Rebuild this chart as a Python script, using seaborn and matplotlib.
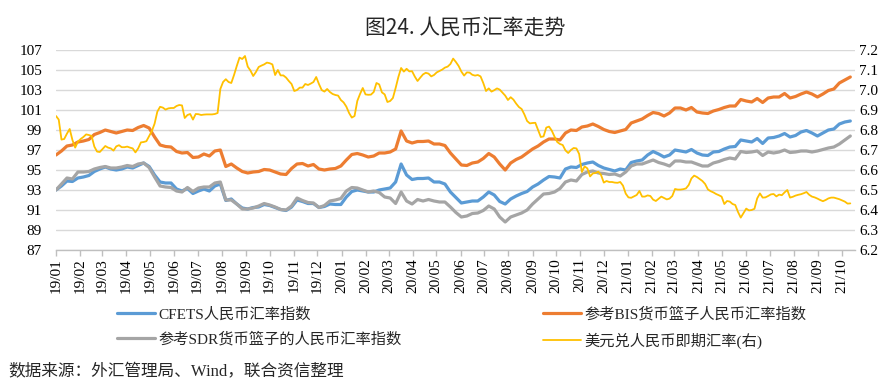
import numpy as np
import pandas as pd
import matplotlib
matplotlib.use("Agg")
import matplotlib.pyplot as plt
import seaborn as sns

sns.set_theme(style="white")
plt.rcParams["font.family"] = ["Liberation Serif", "Noto Sans CJK SC"]
plt.rcParams["axes.unicode_minus"] = False

title = "图24. 人民币汇率走势"
source = "数据来源：外汇管理局、Wind，联合资信整理"
names = ["CFETS人民币汇率指数", "参考BIS货币篮子人民币汇率指数",
         "参考SDR货币篮子的人民币汇率指数", "美元兑人民币即期汇率(右)"]

# weekly index observations (first week of 2019 .. mid Oct 2021)
index_start = "2019-01-01"
cfets = [
    93.0, 93.4, 93.9, 93.85, 94.2, 94.3, 94.45, 94.85, 95.1, 95.3, 95.1, 95.0, 95.1, 95.3, 95.2, 95.45, 95.7, 95.35,
    94.5, 93.8, 93.7, 93.7, 93.1, 92.9, 93.15, 92.65, 92.9, 93.1, 92.9, 93.4, 93.6, 91.95, 92.1, 91.6, 91.2, 91.1, 91.25,
    91.3, 91.55, 91.45, 91.25, 91.05, 90.95, 91.3, 92.0, 91.85, 91.65, 91.65, 91.25, 91.35, 91.6, 91.55, 91.55, 92.3, 92.85,
    93.0, 92.9, 92.8, 92.8, 93.0, 93.1, 93.2, 93.8, 95.6, 94.5, 94.05, 94.15, 94.15, 94.2, 93.8, 93.8, 93.6, 92.8,
    92.25, 91.7, 91.8, 91.9, 91.9, 92.3, 92.8, 92.5, 91.85, 91.6, 92.1, 92.4, 92.65, 92.85, 93.3, 93.6, 94.0, 94.35,
    94.3, 94.2, 95.1, 95.3, 95.25, 95.55, 95.7, 95.8, 95.45, 95.2, 95.05, 94.9, 95.1, 95.0, 95.75, 95.9, 96.0, 96.5,
    96.85, 96.6, 96.3, 96.5, 97.0, 96.9, 96.8, 97.05, 96.7, 96.5, 96.45, 96.8, 96.85, 97.1, 97.3, 97.35, 98.0, 97.9,
    97.8, 98.15, 97.65, 98.2, 98.25, 98.4, 98.65, 98.3, 98.45, 98.8, 98.95, 98.7, 98.4, 98.7, 99.0, 99.1, 99.6, 99.8, 99.9,
]
bis = [
    96.5, 96.9, 97.4, 97.5, 97.8, 97.9, 98.05, 98.55, 98.75, 99.0, 98.85, 98.7, 98.85, 99.0, 98.95, 99.25, 99.45, 99.2,
    98.3, 97.5, 97.35, 97.3, 96.85, 96.7, 96.75, 96.25, 96.3, 96.6, 96.4, 96.9, 97.0, 95.35, 95.6, 95.2, 94.85, 94.7, 94.8,
    94.85, 95.05, 95.0, 94.8, 94.6, 94.55, 95.15, 95.6, 95.65, 95.4, 95.55, 95.1, 95.0, 95.1, 95.15, 95.4, 96.0, 96.55,
    96.65, 96.5, 96.3, 96.4, 96.7, 96.7, 96.8, 97.1, 98.9, 97.9, 97.7, 97.85, 97.85, 97.9, 97.6, 97.6, 97.45, 96.7,
    96.1, 95.5, 95.45, 95.7, 95.8, 96.15, 96.65, 96.3, 95.6, 95.0, 95.7, 96.05, 96.3, 96.7, 97.1, 97.4, 97.8, 98.1,
    98.1, 98.0, 98.7, 99.0, 98.95, 99.3, 99.4, 99.6, 99.35, 99.05, 98.85, 98.75, 98.9, 99.05, 99.7, 99.9, 100.1, 100.45,
    100.75, 100.65, 100.4, 100.7, 101.2, 101.2, 101.0, 101.25, 100.8, 100.7, 100.65, 100.9, 101.05, 101.25, 101.4, 101.4,
    102.05, 101.9, 101.8, 102.15, 101.75, 102.2, 102.3, 102.3, 102.65, 102.2, 102.35, 102.6, 102.8, 102.6, 102.3, 102.6,
    102.95, 103.1, 103.7, 104.0, 104.3,
]
sdr = [
    93.0, 93.6, 94.2, 94.1, 94.8, 94.8, 94.85, 95.1, 95.25, 95.35, 95.2, 95.2, 95.3, 95.45, 95.35, 95.6, 95.7, 95.25,
    94.3, 93.4, 93.3, 93.25, 92.9, 92.8, 93.25, 92.85, 93.2, 93.3, 93.3, 93.7, 93.8, 92.0, 92.0, 91.6, 91.1, 91.1, 91.2,
    91.4, 91.65, 91.5, 91.3, 91.05, 91.0, 91.4, 92.2, 91.95, 91.75, 91.7, 91.25, 91.45, 91.9, 92.0, 92.15, 92.9, 93.25,
    93.2, 93.0, 92.8, 92.9, 92.75, 92.3, 92.2, 91.65, 92.8, 91.9, 91.6, 92.05, 91.9, 92.05, 91.9, 91.8, 91.8, 91.3,
    90.75, 90.3, 90.4, 90.65, 90.7, 90.95, 91.4, 91.1, 90.3, 89.8, 90.3, 90.5, 90.7, 91.0, 91.6, 92.1, 92.6, 92.65,
    92.8, 93.15, 93.8, 94.0, 93.9, 94.55, 94.8, 94.9, 94.7, 94.65, 94.55, 94.6, 94.4, 94.8, 95.4, 95.6, 95.6, 95.8,
    96.0, 95.75, 95.6, 95.4, 95.9, 95.9, 95.8, 95.8, 95.6, 95.4, 95.4, 95.7, 95.85, 96.05, 96.2, 96.1, 96.85, 96.75,
    96.8, 96.9, 96.45, 96.8, 96.7, 96.8, 97.0, 96.75, 96.8, 96.9, 96.9, 96.8, 96.9, 97.05, 97.2, 97.3, 97.6, 98.0, 98.4,
]
# USD/CNY spot, roughly twice-weekly readings
usdcny = [
    6.870, 6.852, 6.752, 6.755, 6.782, 6.805, 6.750, 6.712, 6.742, 6.755,
    6.765, 6.778, 6.775, 6.770, 6.717, 6.692, 6.690, 6.705, 6.720, 6.712,
    6.708, 6.697, 6.718, 6.724, 6.714, 6.714, 6.717, 6.712, 6.708, 6.688,
    6.708, 6.738, 6.740, 6.744, 6.770, 6.795, 6.832, 6.892, 6.916, 6.912,
    6.902, 6.908, 6.910, 6.910, 6.920, 6.925, 6.923, 6.860, 6.875, 6.880,
    6.852, 6.880, 6.879, 6.875, 6.877, 6.878, 6.878, 6.878, 6.880, 6.885,
    7.005, 7.040, 7.054, 7.040, 7.035, 7.075, 7.120, 7.162, 7.155, 7.170,
    7.117, 7.097, 7.070,
    7.090, 7.115, 7.122, 7.128, 7.137, 7.134, 7.128, 7.075, 7.100, 7.073,
    7.073, 7.062, 7.045, 7.030, 6.995, 7.000, 7.012, 7.012, 7.030, 7.025,
    7.032, 7.040, 7.065, 7.030, 7.000, 6.992, 7.005, 6.990, 6.980, 6.975,
    6.972, 6.950, 6.938, 6.917, 6.885, 6.862, 6.870, 6.945, 6.980, 7.010,
    6.978, 6.976, 6.977, 6.990, 7.035, 7.028, 6.988, 6.978, 6.940, 6.945,
    6.960, 7.010, 7.065, 7.110, 7.092, 7.106, 7.093, 7.094, 7.067, 7.045,
    7.062, 7.078, 7.086, 7.082, 7.068, 7.075, 7.088, 7.095, 7.102, 7.112,
    7.117, 7.130,
    7.157, 7.140, 7.120, 7.092, 7.072, 7.088, 7.087, 7.076, 7.072, 7.075,
    7.068, 7.035, 6.995, 7.008, 6.992, 6.999, 7.008, 7.002, 6.987, 6.972,
    6.950, 6.964, 6.952, 6.932, 6.915, 6.905, 6.878, 6.845, 6.833, 6.835,
    6.836, 6.800, 6.765, 6.768, 6.812, 6.817, 6.797, 6.767, 6.740, 6.730,
    6.725, 6.698, 6.685, 6.700, 6.710, 6.708, 6.680, 6.590, 6.618, 6.608,
    6.568, 6.583, 6.585, 6.592, 6.575, 6.537, 6.545, 6.540, 6.540, 6.537,
    6.536, 6.540, 6.522, 6.482, 6.463, 6.461, 6.468, 6.475, 6.495, 6.467,
    6.467, 6.473, 6.470,
    6.452, 6.445, 6.456, 6.467, 6.460, 6.453, 6.457, 6.470, 6.505, 6.502,
    6.502, 6.504, 6.508, 6.525, 6.558, 6.572, 6.565, 6.555, 6.545, 6.530,
    6.503, 6.494, 6.488, 6.480, 6.474, 6.467, 6.430, 6.445, 6.442, 6.430,
    6.425, 6.390, 6.362, 6.385, 6.407, 6.398, 6.400, 6.406, 6.458, 6.483,
    6.462, 6.463, 6.470, 6.478, 6.480, 6.468, 6.477, 6.474, 6.488, 6.500,
    6.462, 6.466, 6.472, 6.476, 6.479, 6.484, 6.490, 6.476, 6.467, 6.463,
    6.457, 6.450, 6.444, 6.450, 6.458, 6.462, 6.462, 6.458, 6.454, 6.448,
    6.442, 6.432, 6.433,
]
month_labels = [
    "19/01", "19/02", "19/03", "19/04", "19/05", "19/06", "19/07", "19/08", "19/09", "19/10", "19/11", "19/12",
    "20/01", "20/02", "20/03", "20/04", "20/05", "20/06", "20/07", "20/08", "20/09", "20/10", "20/11", "20/12",
    "21/01", "21/02", "21/03", "21/04", "21/05", "21/06", "21/07", "21/08", "21/09", "21/10",
]
left_ticks = [87, 89, 91, 93, 95, 97, 99, 101, 103, 105, 107]
right_ticks = [6.2, 6.3, 6.4, 6.5, 6.6, 6.7, 6.8, 6.9, 7.0, 7.1, 7.2]

colors = ["#5B9BD5", "#ED7D31", "#A5A5A5", "#FFC000"]

week_dates = pd.date_range(index_start, periods=len(cfets), freq="7D")
spot_dates = pd.date_range(index_start, periods=len(usdcny), freq="84h")
df_idx = pd.DataFrame({"date": week_dates, "cfets": cfets, "bis": bis, "sdr": sdr})
df_fx = pd.DataFrame({"date": spot_dates, "usdcny": usdcny})
month_ticks = pd.date_range(index_start, periods=len(month_labels), freq="MS")

W, H = 890, 385
fig = plt.figure(figsize=(W / 100, H / 100), dpi=100)
ax = fig.add_axes([56 / W, 135 / H, 799 / W, 200 / H])
ax2 = ax.twinx()

sns.lineplot(data=df_idx, x="date", y="bis", ax=ax, color=colors[1], lw=2.3, label=names[1])
sns.lineplot(data=df_idx, x="date", y="cfets", ax=ax, color=colors[0], lw=2.3, label=names[0])
sns.lineplot(data=df_idx, x="date", y="sdr", ax=ax, color=colors[2], lw=2.3, label=names[2])
sns.lineplot(data=df_fx, x="date", y="usdcny", ax=ax2, color=colors[3], lw=1.3, label=names[3])

for a in (ax, ax2):
    if a.get_legend() is not None:
        a.get_legend().remove()
    a.set_xlabel("")
    a.set_ylabel("")
    for s in a.spines.values():
        s.set_visible(False)

ax.set_ylim(87, 107)
ax.set_yticks(left_ticks)
ax.set_yticklabels([str(v) for v in left_ticks])
ax2.set_ylim(6.2, 7.2)
ax2.set_yticks(right_ticks)
ax2.set_yticklabels([f"{v:.1f}" for v in right_ticks])
ax.set_xlim(pd.Timestamp("2019-01-01"), pd.Timestamp("2021-10-18"))
ax.set_xticks(month_ticks)
ax.set_xticklabels(month_labels, rotation=90)

ax.grid(axis="y", color="#D9D9D9", lw=1.0)
ax.grid(axis="x", visible=False)
ax2.grid(False)
ax.set_axisbelow(True)
ax.spines["bottom"].set_visible(True)
ax.spines["bottom"].set_color("#BFBFBF")
ax.spines["bottom"].set_linewidth(1.0)

ax.tick_params(axis="x", bottom=True, direction="out", length=4, width=1, color="#BFBFBF",
               pad=2, labelsize=11, labelcolor="black")
ax.tick_params(axis="y", left=False, length=0, pad=10, labelsize=11, labelcolor="black")
ax2.tick_params(axis="y", right=False, length=0, pad=3, labelsize=11, labelcolor="black")

h1, l1 = ax.get_legend_handles_labels()
h2, l2 = ax2.get_legend_handles_labels()
hmap = dict(zip(l1 + l2, h1 + h2))

leg_kw = dict(frameon=False, loc="upper left", fontsize=11, borderpad=0, borderaxespad=0,
              handlelength=2.5, handletextpad=0.2, labelspacing=0.7)
leg1 = fig.legend([hmap[names[0]], hmap[names[2]]], [names[0], names[2]],
                  bbox_to_anchor=(117 / W, 1 - 307 / H), **leg_kw)
leg2 = fig.legend([hmap[names[1]], hmap[names[3]]], [names[1], names[3]],
                  bbox_to_anchor=(543 / W, 1 - 307 / H), **leg_kw)

fig.text(465 / W, 1 - 28 / H, title, ha="center", va="center", fontsize=15,
         family=["Noto Sans CJK SC", "DejaVu Sans"])
fig.text(8 / W, 1 - 372 / H, source, ha="left", va="center", fontsize=12)

fig.savefig("out.png", dpi=100)
